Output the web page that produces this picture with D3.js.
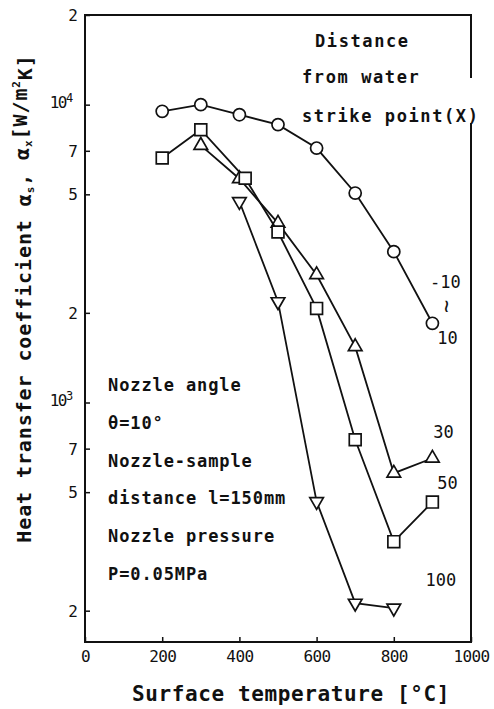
<!DOCTYPE html>
<html>
<head>
<meta charset="utf-8">
<script src="https://cdn.jsdelivr.net/npm/d3@7"></script>
<style>
  body { margin: 0; background: #fff; }
  svg { display: block; }
  text { font-family: "DejaVu Sans Mono", "Liberation Mono", monospace; fill: #111; }
</style>
</head>
<body>
<svg width="494" height="709"></svg>
<script>
//-- data --//
const circleTemp   = [200, 300, 400, 500, 600, 700, 800, 900];
const circleAlpha  = [9500, 10000, 9250, 8570, 7150, 5050, 3210, 1845];   // x = -10 ~ 10
const triUpTemp    = [300, 400, 500, 600, 700, 800, 900];
const triUpAlpha   = [7300, 5640, 4000, 2685, 1540, 579, 650];             // x = 30
const squareTemp   = [200, 300, 415, 500, 600, 700, 800, 900];
const squareAlpha  = [6620, 8240, 5660, 3735, 2070, 750, 341, 463];        // x = 50
const triDownTemp  = [400, 500, 600, 700, 800];
const triDownAlpha = [4730, 2180, 465, 212, 204];                          // x = 100

const xTicks = [0, 200, 400, 600, 800, 1000];
const yTicks = [20000, 10000, 7000, 5000, 2000, 1000, 700, 500, 200];
const yTickLabels = ["2", "10|4", "7", "5", "2", "10|3", "7", "5", "2"];
const xDomain = [0, 1000];
const yDomain = [157, 20000];

const notes = ["Nozzle angle", "θ=10°", "Nozzle-sample", "distance l=150mm", "Nozzle pressure", "P=0.05MPa"];
const legendTitle = ["Distance", "from water", "strike point(X)"];

const zip = (t, a) => t.map((d, i) => ({t: d, a: a[i]}));
const series = [
    {key: "-10~10", symbol: "circle",   values: zip(circleTemp, circleAlpha)},
    {key: "30",     symbol: "triUp",    values: zip(triUpTemp, triUpAlpha)},
    {key: "50",     symbol: "square",   values: zip(squareTemp, squareAlpha)},
    {key: "100",    symbol: "triDown",  values: zip(triDownTemp, triDownAlpha)}
];

const margin = {top: 15, right: 23, bottom: 67, left: 85};
const width = 494, height = 709;

const x = d3.scaleLinear()
    .domain(xDomain)
    .range([margin.left, width - margin.right]);

const y = d3.scaleLog()
    .domain(yDomain)
    .range([height - margin.bottom, margin.top]);

const svg = d3.select("svg");

//-- frame --//
svg.append("rect")
    .attr("x", x.range()[0])
    .attr("y", y.range()[1])
    .attr("width", x.range()[1] - x.range()[0])
    .attr("height", y.range()[0] - y.range()[1])
    .attr("fill", "none")
    .attr("stroke", "#111")
    .attr("stroke-width", 2);

//-- axes --//
const xAxis = g => g
    .attr("transform", `translate(0,${y.range()[0]})`)
    .call(d3.axisBottom(x).tickValues(xTicks).tickSize(-5).tickPadding(9).tickFormat(d3.format("d")))
    .call(g => g.select(".domain").remove())
    .call(g => g.selectAll(".tick line").attr("stroke", "#111").attr("stroke-width", 1.5))
    .call(g => g.selectAll(".tick text")
        .attr("font-size", 16)
        .attr("letter-spacing", -0.6)
        .attr("font-family", "'DejaVu Sans Mono', monospace")
        .attr("fill", "#111"));

const yAxis = g => g
    .attr("transform", `translate(${x.range()[0]},0)`)
    .call(d3.axisLeft(y).tickValues(yTicks).tickSize(-5).tickPadding(7).tickFormat(() => ""))
    .call(g => g.select(".domain").remove())
    .call(g => g.selectAll(".tick line").attr("stroke", "#111").attr("stroke-width", 1.5))
    .call(g => g.selectAll(".tick text").each(function(d, i) {
        const parts = yTickLabels[i].split("|");
        const t = d3.select(this)
            .attr("font-size", 16)
            .attr("font-family", "'DejaVu Sans Mono', monospace")
            .attr("fill", "#111");
        if (parts.length > 1) {
            t.attr("dy", "0.2em").attr("dx", "-0.3em").attr("letter-spacing", -1.5);
            t.append("tspan").text(parts[0]);
            t.append("tspan").attr("dy", "-0.55em").attr("font-size", 12).attr("letter-spacing", 0).text(parts[1]);
        } else {
            t.attr("dy", "0.35em").text(parts[0]);
        }
    }));

svg.append("g").call(xAxis);
svg.append("g").call(yAxis);

//-- axis titles --//
svg.append("text")
    .attr("x", (x.range()[0] + x.range()[1]) / 2 + 13)
    .attr("y", 701)
    .attr("text-anchor", "middle")
    .attr("font-size", 21)
    .attr("font-weight", "bold")
    .attr("letter-spacing", 0.6)
    .text("Surface temperature [°C]");

const yTitle = svg.append("text")
    .attr("transform", `translate(31,${(y.range()[0] + y.range()[1]) / 2 - 30}) rotate(-90)`)
    .attr("text-anchor", "middle")
    .attr("font-size", 20)
    .attr("font-weight", "bold")
    .attr("letter-spacing", 0.9);
yTitle.append("tspan").text("Heat transfer coefficient α");
yTitle.append("tspan").attr("font-size", 11).attr("dy", "0.25em").text("s");
yTitle.append("tspan").attr("dy", "-0.25em").text(", α");
yTitle.append("tspan").attr("font-size", 11).attr("dy", "0.25em").text("x");
yTitle.append("tspan").attr("dy", "-0.25em").text("[W/m");
yTitle.append("tspan").attr("font-size", 11).attr("dy", "-0.6em").text("2");
yTitle.append("tspan").attr("dy", "0.6em").text("K]");

//-- series --//
const line = d3.line()
    .x(d => x(d.t))
    .y(d => y(d.a));

const symbolPath = {
    circle: d3.symbol(d3.symbolCircle, 115)(),
    square: d3.symbol(d3.symbolSquare, 140)(),
    triUp: d3.symbol(d3.symbolTriangle, 80)(),
    triDown: d3.symbol(d3.symbolTriangle, 80)()
};

const sg = svg.append("g")
    .selectAll("g")
    .data(series)
    .join("g");

sg.append("path")
    .attr("fill", "none")
    .attr("stroke", "#111")
    .attr("stroke-width", 1.8)
    .attr("d", d => line(d.values));

sg.selectAll(".mark")
    .data(d => d.values.map(v => ({...v, symbol: d.symbol})))
    .join("path")
    .attr("class", "mark")
    .attr("fill", "#fff")
    .attr("stroke", "#111")
    .attr("stroke-width", 1.7)
    .attr("transform", d => `translate(${x(d.t)},${y(d.a)})${d.symbol === "triDown" ? " rotate(180)" : ""}`)
    .attr("d", d => symbolPath[d.symbol]);

//-- series labels (offset from last point) --//
const lastPt = s => s.values[s.values.length - 1];
const labelG = svg.append("g").attr("font-size", 17).attr("text-anchor", "middle");

const sC = lastPt(series[0]);
labelG.append("text").attr("x", x(sC.t) + 13).attr("y", y(sC.a) - 35).text("-10");
labelG.append("text").attr("x", x(sC.t) + 15).attr("y", y(sC.a) - 17)
    .attr("transform", `rotate(90,${x(sC.t) + 15},${y(sC.a) - 17})`)
    .attr("font-size", 22)
    .attr("dy", "0.35em").text("~");
labelG.append("text").attr("x", x(sC.t) + 15).attr("y", y(sC.a) + 21).text("10");

const sT = lastPt(series[1]);
labelG.append("text").attr("x", x(sT.t) + 11).attr("y", y(sT.a) - 20).text("30");
const sS = lastPt(series[2]);
labelG.append("text").attr("x", x(sS.t) + 15).attr("y", y(sS.a) - 13).text("50");
const sD = lastPt(series[3]);
labelG.append("text").attr("x", x(sD.t) + 47).attr("y", y(sD.a) - 22).text("100");

//-- legend title, masks the right frame where it runs over --//
svg.append("rect")
    .attr("x", x.range()[1] - 6)
    .attr("y", 78)
    .attr("width", 12)
    .attr("height", 45)
    .attr("fill", "#fff");

svg.append("g")
    .attr("font-size", 17)
    .attr("font-weight", "bold")
    .attr("letter-spacing", 1.6)
    .selectAll("text")
    .data(legendTitle)
    .join("text")
    .attr("x", (d, i) => i === 0 ? 315 : 302)
    .attr("y", (d, i) => [47, 83, 122][i])
    .text(d => d);

//-- notes --//
svg.append("g")
    .attr("font-size", 17)
    .attr("font-weight", "bold")
    .attr("letter-spacing", 0.9)
    .selectAll("text")
    .data(notes)
    .join("text")
    .attr("x", 108)
    .attr("y", (d, i) => 391 + i * 37.8)
    .text(d => d);
</script>
</body>
</html>
